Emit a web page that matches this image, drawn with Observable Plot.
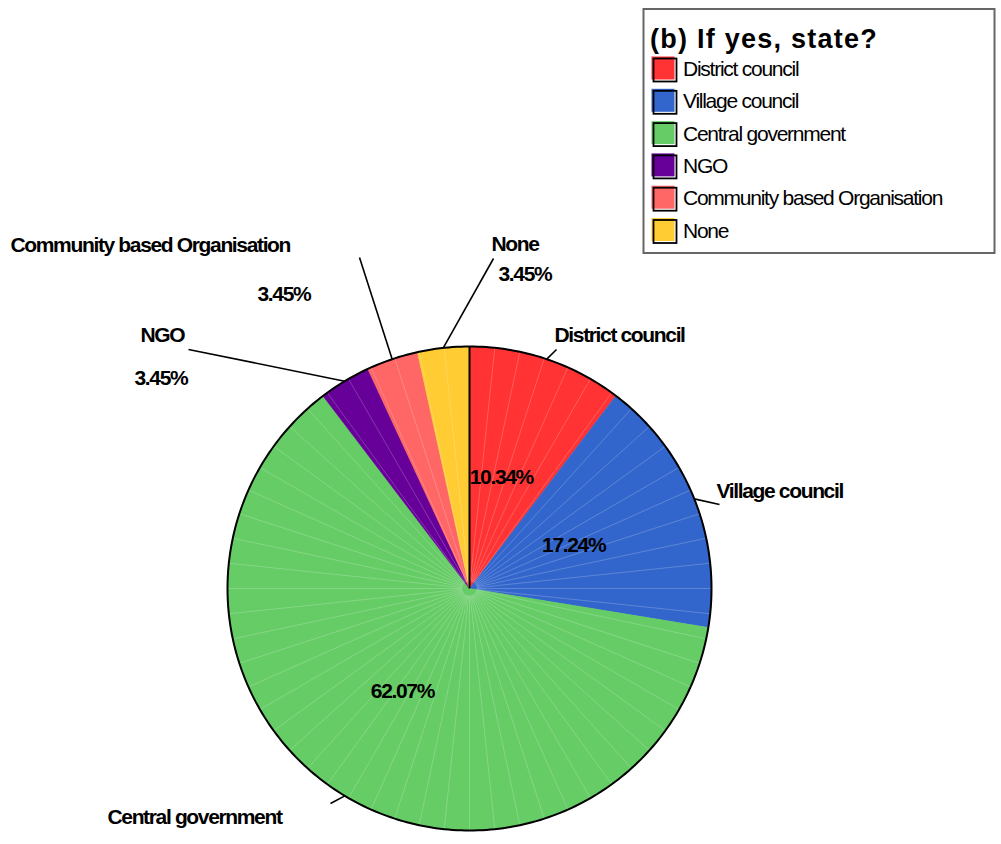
<!DOCTYPE html>
<html>
<head>
<meta charset="utf-8">
<script src="https://cdn.jsdelivr.net/npm/d3@7"></script>
<script src="https://cdn.jsdelivr.net/npm/@observablehq/plot@0.6"></script>
<style>
  html, body { margin: 0; padding: 0; background: #fff; }
  #wrap { position: relative; width: 1001px; height: 844px; overflow: hidden; font-family: "Liberation Sans", Arial, sans-serif; }
  #legend { position: absolute; left: 0; top: 0; pointer-events: none; }
</style>
</head>
<body>
<div id="wrap"></div>
<script>
// ---- Data ----
const categories = ["District council", "Village council", "Central government", "NGO", "Community based Organisation", "None"];
const percents = [10.34, 17.24, 62.07, 3.45, 3.45, 3.45];
const colors = ["#FF3333", "#3366CC", "#66CC66", "#660099", "#FF6666", "#FFCC33"];
const legendTitle = "(b) If yes, state?";

// ---- Layout (pixels) ----
const W = 1001, H = 844, cx = 469, cy = 588, R = 242;
const labelLayout = {
  "District council": {line: [556, 349], name: [554, 335]},
  "Village council": {line: [719, 504], name: [716, 491]},
  "Central government": {line: [330, 803], name: [107, 817]},
  "NGO": {line: [188, 349], name: [140, 335], pct: [134, 378]},
  "Community based Organisation": {line: [359, 257], name: [10, 245], pct: [257, 294]},
  "None": {line: [493, 258], name: [491, 244], pct: [498, 274]}
};
const ux = px => (px - cx) / R;
const uy = py => (cy - py) / R;

// ---- Slices ----
const total = d3.sum(percents);
let acc = 0;
const slices = categories.map((name, i) => {
  const a0 = acc / total * 2 * Math.PI;
  acc += percents[i];
  const a1 = acc / total * 2 * Math.PI;
  return {name, value: percents[i], a0, a1, mid: (a0 + a1) / 2};
});
const fmt = v => d3.format(".2f")(v) + "%";

const polyPts = slices.flatMap(s => {
  const n = Math.max(2, Math.ceil((s.a1 - s.a0) / 0.01));
  const pts = [{name: s.name, x: 0, y: 0}];
  for (let k = 0; k <= n; k++) {
    const a = s.a0 + (s.a1 - s.a0) * k / n;
    pts.push({name: s.name, x: Math.sin(a), y: Math.cos(a)});
  }
  pts.push({name: s.name, x: 0, y: 0});
  return pts;
});
const circle = d3.range(0, 361).map(d => ({x: Math.sin(d * Math.PI / 180), y: Math.cos(d * Math.PI / 180)}));
const facetAngles = d3.range(0, 360, 6).map(d => d * Math.PI / 180);

const outside = slices.map(s => ({...s, lay: labelLayout[s.name]}));
const insidePct = slices.filter(s => s.value >= 5);
const outsidePct = outside.filter(s => s.value < 5);

const fontFamily = '"Liberation Sans", Arial, sans-serif';

const chart = Plot.plot({
  width: W, height: H, margin: 0,
  x: {domain: [-cx / R, (W - cx) / R], axis: null},
  y: {domain: [(cy - H) / R, cy / R], axis: null},
  color: {domain: categories, range: colors},
  style: {fontFamily, background: "white", overflow: "visible"},
  marks: [
    Plot.line(polyPts, {x: "x", y: "y", z: "name", fill: "name", stroke: "name", strokeWidth: 0.6, curve: "linear"}),
    Plot.link(facetAngles, {x1: a => 0.03 * Math.sin(a), y1: a => 0.03 * Math.cos(a), x2: a => Math.sin(a), y2: a => Math.cos(a), stroke: "white", strokeOpacity: 0.3, strokeWidth: 0.7}),
    Plot.line(circle, {x: "x", y: "y", stroke: "black", strokeWidth: 2}),
    Plot.link([slices[0]], {x1: () => 0, y1: () => 0, x2: d => Math.sin(d.a0), y2: d => Math.cos(d.a0), stroke: "black", strokeWidth: 2}),
    Plot.link(outside, {x1: d => Math.sin(d.mid), y1: d => Math.cos(d.mid), x2: d => ux(d.lay.line[0]), y2: d => uy(d.lay.line[1]), stroke: "black", strokeWidth: 1.6}),
    Plot.text(outside, {x: d => ux(d.lay.name[0]), y: d => uy(d.lay.name[1]), text: "name", textAnchor: "start", fontSize: 21, fontWeight: "bold", fill: "black"}),
    Plot.text(outsidePct, {x: d => ux(d.lay.pct[0]), y: d => uy(d.lay.pct[1]), text: d => fmt(d.value), textAnchor: "start", fontSize: 21, fontWeight: "bold", fill: "black"}),
    Plot.text(insidePct, {x: d => 0.49 * Math.sin(d.mid), y: d => 0.49 * Math.cos(d.mid), dx: -6, dy: 1, text: d => fmt(d.value), textAnchor: "middle", fontSize: 21, fontWeight: "bold", fill: "black"})
  ]
});
d3.select(chart).selectAll("text").attr("letter-spacing", "-1.35px");
document.getElementById("wrap").appendChild(chart);

// ---- Legend ----
const leg = d3.select("#wrap").append("svg").attr("id", "legend").attr("width", W).attr("height", 270)
  .style("font-family", fontFamily);
leg.append("rect").attr("x", 643.5).attr("y", 9).attr("width", 351).attr("height", 244)
  .attr("fill", "white").attr("stroke", "#666").attr("stroke-width", 2);
leg.append("text").attr("x", 650).attr("y", 48).attr("font-size", 27).attr("font-weight", "bold")
  .attr("letter-spacing", "1.25px").text(legendTitle);
categories.forEach((c, i) => {
  const b = 76 + i * 32.3;
  leg.append("rect").attr("x", 651.5).attr("y", b - 19.5).attr("width", 23).attr("height", 23).attr("fill", colors[i]);
  leg.append("rect").attr("x", 653.5).attr("y", b - 17.5).attr("width", 23).attr("height", 23)
    .attr("fill", "none").attr("stroke", "black").attr("stroke-width", 1.8);
  leg.append("text").attr("x", 683).attr("y", b).attr("font-size", 21).attr("letter-spacing", "-1.25px").text(c);
});
</script>
</body>
</html>
